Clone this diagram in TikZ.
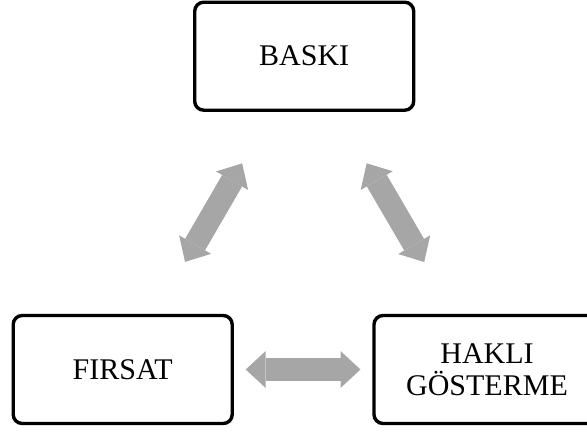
\documentclass[tikz,border=0pt]{standalone}
\usepackage{fontspec}
\setmainfont{Liberation Serif}
\usepackage{tikz}
\usetikzlibrary{arrows.meta}
\usetikzlibrary{positioning}
\definecolor{arrowgray}{RGB}{166,166,166}

\begin{document}
\begin{tikzpicture}[x=1pt,y=-1pt,node distance=141.8pt,
                        box/.style={rectangle,draw,line width=3.4pt,rounded corners=9pt,
                          minimum width=219pt,minimum height=108pt,outer sep=0pt,
                          align=center,font=\fontsize{30}{32}\selectfont},
                        dblarrow/.style={draw=arrowgray,line width=23pt,
                          {Triangle[length=20pt,width=37pt,line width=0pt]}-{Triangle[length=20pt,width=37pt,line width=0pt]}}]

      \useasboundingbox (0,0) rectangle (587,432);
      \node[box] (baski) at (304.2,56.2) {BASKI};
      \node[box] (firsat) at (122.7,369.5) {FIRSAT};
      \node[box,minimum width=226pt] (hakli) [right=of firsat] {HAKLI\\GÖSTERME};
      \path
        (baski) edge[dblarrow,shorten <=61.5pt,shorten >=62pt] (firsat)
        (baski) edge[dblarrow,shorten <=61.5pt,shorten >=62pt] (hakli)
        (firsat) edge[dblarrow,shorten <=13.5pt,shorten >=13.5pt] (hakli);
    \end{tikzpicture}
\end{document}
